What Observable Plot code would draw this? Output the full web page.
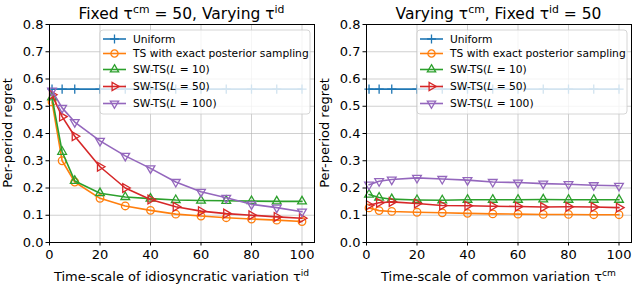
<!DOCTYPE html>
<html><head><meta charset="utf-8">
<script src="https://cdn.jsdelivr.net/npm/d3@7"></script>
<script src="https://cdn.jsdelivr.net/npm/@observablehq/plot@0.6"></script>
<style>
body{margin:0;background:#fff;}
#wrap{display:flex;width:634px;height:286px;}
svg text{font-family:"DejaVu Sans";font-weight:normal;}
</style></head>
<body><div id="wrap"></div>
<script>
// ---- data ----
const xs = [1, 5, 10, 20, 30, 40, 50, 60, 70, 80, 90, 100];
const seriesNames = ["Uniform", "TS with exact posterior sampling", "SW-TS(L=10)", "SW-TS(L=50)", "SW-TS(L=100)"];
const seriesColors = ["#1f77b4", "#ff7f0e", "#2ca02c", "#d62728", "#9467bd"];
const xTicks = [0, 20, 40, 60, 80, 100];
const yTicks = [0, 0.1, 0.2, 0.3, 0.4, 0.5, 0.6, 0.7, 0.8];

const leftUniform = [0.563, 0.563, 0.563, 0.563, 0.563, 0.563, 0.563, 0.563, 0.563, 0.563, 0.563, 0.563];
const leftTS   = [0.516, 0.300, 0.222, 0.162, 0.134, 0.118, 0.104, 0.097, 0.091, 0.086, 0.082, 0.077];
const leftL10  = [0.533, 0.333, 0.226, 0.181, 0.167, 0.161, 0.156, 0.154, 0.153, 0.152, 0.151, 0.151];
const leftL50  = [0.542, 0.462, 0.390, 0.278, 0.200, 0.158, 0.131, 0.115, 0.106, 0.100, 0.094, 0.089];
const leftL100 = [0.557, 0.494, 0.442, 0.373, 0.318, 0.272, 0.222, 0.186, 0.164, 0.140, 0.128, 0.113];

const rightUniform = [0.563, 0.563, 0.563, 0.563, 0.563, 0.563, 0.563, 0.563, 0.563, 0.563, 0.563, 0.563];
const rightTS   = [0.127, 0.117, 0.114, 0.111, 0.109, 0.107, 0.105, 0.104, 0.103, 0.103, 0.102, 0.102];
const rightL10  = [0.176, 0.165, 0.159, 0.156, 0.155, 0.157, 0.157, 0.157, 0.158, 0.157, 0.157, 0.157];
const rightL50  = [0.137, 0.146, 0.149, 0.143, 0.136, 0.135, 0.133, 0.132, 0.130, 0.131, 0.130, 0.128];
const rightL100 = [0.212, 0.225, 0.231, 0.237, 0.233, 0.229, 0.222, 0.220, 0.216, 0.214, 0.210, 0.208];

// ---- symbols ----
function tri(angle) {
  return {draw(ctx, size) {
    const s = Math.sqrt(size / Math.PI) * 1.2;
    for (let i = 0; i < 3; i++) {
      const a = angle + i * 2 * Math.PI / 3;
      const px = s * Math.cos(a), py = s * Math.sin(a);
      if (i === 0) ctx.moveTo(px, py); else ctx.lineTo(px, py);
    }
    ctx.closePath();
  }};
}
const plusSym = {draw(ctx, size) {
  const s = Math.sqrt(size / Math.PI) * 1.1;
  ctx.moveTo(-s, 0); ctx.lineTo(s, 0); ctx.moveTo(0, -s); ctx.lineTo(0, s);
}};
const circSym = {draw(ctx, size) {
  const s = Math.sqrt(size / Math.PI) * 0.9;
  ctx.moveTo(s, 0); ctx.arc(0, 0, s, 0, 2 * Math.PI);
}};
const symbols = [plusSym, circSym, tri(-Math.PI / 2), tri(0), tri(Math.PI / 2)];

function makeRows(arrs) {
  const rows = [];
  arrs.forEach((arr, si) => arr.forEach((v, i) => rows.push({x: xs[i], y: v, s: si})));
  return rows;
}

function richText(sel, parts, fs) {
  const shift = fs * 0.36;
  let raised = false;
  parts.forEach(([t, isSup]) => {
    const ts = sel.append("tspan").text(t);
    if (isSup && !raised) { ts.attr("dy", -shift); raised = true; }
    else if (!isSup && raised) { ts.attr("dy", shift); raised = false; }
    if (isSup) ts.attr("font-size", fs * 0.7);
  });
}

function panel(arrs, titleParts, xlabelParts) {
  const rows = makeRows(arrs);
  const marks = [
    Plot.gridX(xTicks, {stroke: "#b0b0b0", strokeOpacity: 0.75, strokeWidth: 0.8}),
    Plot.gridY(yTicks, {stroke: "#b0b0b0", strokeOpacity: 0.75, strokeWidth: 0.8}),
  ];
  arrs.forEach((arr, si) => {
    const d = rows.filter(r => r.s === si);
    marks.push(Plot.line(d, {x: "x", y: "y", stroke: seriesColors[si], strokeWidth: 1.6}));
    marks.push(Plot.dot(d, {x: "x", y: "y", stroke: seriesColors[si], fill: "none", symbol: () => symbols[si], r: 4.2, strokeWidth: 1.3}));
  });
  marks.push(Plot.frame({stroke: "black", strokeWidth: 1}));
  marks.push(Plot.axisX(xTicks, {tickSize: 3.5, tickPadding: 4, fontSize: 13, label: null}));
  marks.push(Plot.axisY(yTicks, {tickSize: 3.5, tickPadding: 2.5, fontSize: 13, label: null, tickFormat: d3.format(".1f")}));
  const svg = Plot.plot({
    width: 317, height: 286,
    marginLeft: 49, marginRight: 3, marginTop: 24, marginBottom: 44,
    style: {fontFamily: "DejaVu Sans", fontSize: "13px", color: "black", background: "white", overflow: "visible"},
    x: {domain: [0, 104.95]},
    y: {domain: [0, 0.8]},
    marks
  });
  const s = d3.select(svg);
  const cx = 49 + (317 - 49 - 3) / 2;
  // title
  const t = s.append("text").attr("x", cx).attr("y", 18.5).attr("text-anchor", "middle").attr("font-size", 15.5).attr("fill", "black");
  richText(t, titleParts, 15.5);
  // x label
  const xl = s.append("text").attr("x", cx).attr("y", 281).attr("text-anchor", "middle").attr("font-size", 13).attr("fill", "black");
  richText(xl, xlabelParts, 13);
  // y label
  s.append("text").attr("transform", `translate(12,${(24 + 242) / 2}) rotate(-90)`).attr("text-anchor", "middle").attr("font-size", 13).attr("fill", "black").text("Per-period regret");
  // legend
  const g = s.append("g");
  g.append("rect").attr("x", 100).attr("y", 30).attr("width", 210).attr("height", 84).attr("rx", 3)
    .attr("fill", "white").attr("fill-opacity", 0.8).attr("stroke", "#cccccc").attr("stroke-width", 0.8);
  const rowY = [39, 53.5, 69.5, 86.5, 103.5];
  seriesNames.forEach((name, i) => {
    const y = rowY[i];
    g.append("line").attr("x1", 103).attr("x2", 126).attr("y1", y).attr("y2", y).attr("stroke", seriesColors[i]).attr("stroke-width", 1.6);
    g.append("path").attr("transform", `translate(114.5,${y})`).attr("d", d3.symbol().type(symbols[i]).size(16 * Math.PI)())
      .attr("fill", "none").attr("stroke", seriesColors[i]).attr("stroke-width", 1.3);
    const tx = g.append("text").attr("x", 133).attr("y", y + 3.8).attr("font-size", 10.7).attr("fill", "black").attr("text-anchor", "start");
    const m = name.match(/^SW-TS\(L=(\d+)\)$/);
    if (m) {
      tx.append("tspan").text("SW-TS(");
      tx.append("tspan").attr("font-style", "italic").text("L");
      tx.append("tspan").text(" = " + m[1] + ")");
    } else tx.text(name);
  });
  return svg;
}

const wrap = document.getElementById("wrap");
wrap.append(panel([leftUniform, leftTS, leftL10, leftL50, leftL100],
  [["Fixed τ", false], ["cm", true], [" = 50, Varying τ", false], ["id", true]],
  [["Time-scale of idiosyncratic variation τ", false], ["id", true]]));
wrap.append(panel([rightUniform, rightTS, rightL10, rightL50, rightL100],
  [["Varying τ", false], ["cm", true], [", Fixed τ", false], ["id", true], [" = 50", false]],
  [["Time-scale of common variation τ", false], ["cm", true]]));
</script></body></html>
